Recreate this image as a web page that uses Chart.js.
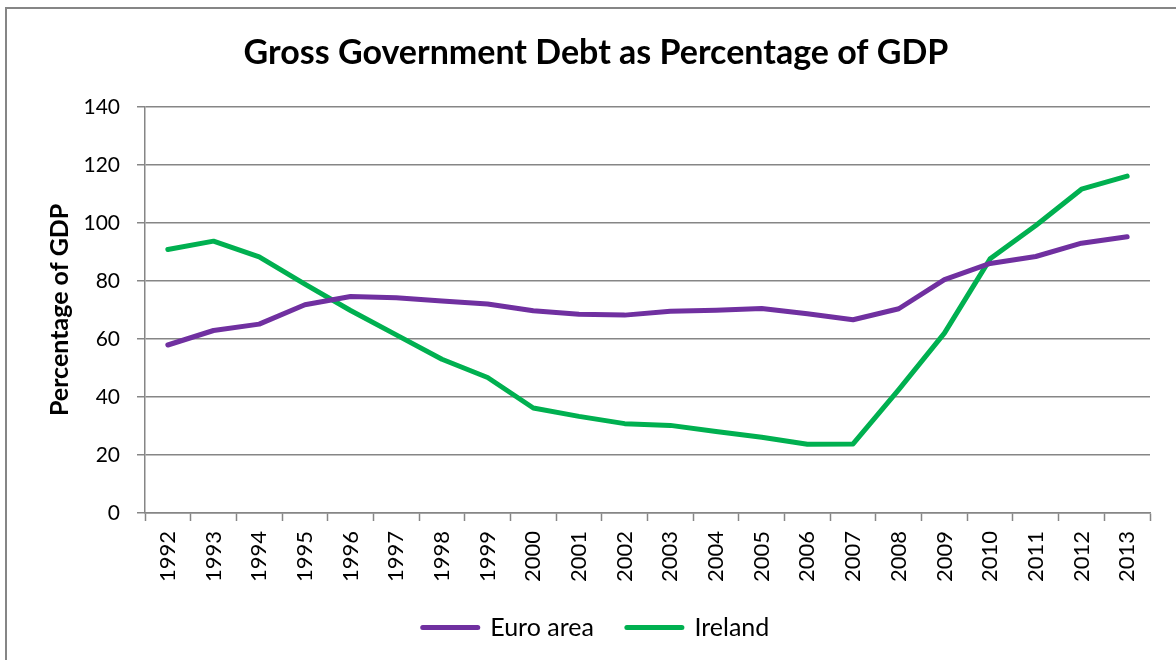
<!DOCTYPE html>
<html>
<head>
<meta charset="utf-8">
<title>Gross Government Debt as Percentage of GDP</title>
<script src="https://cdn.jsdelivr.net/npm/chart.js@4/dist/chart.umd.min.js"></script>
<style>
    html, body { margin: 0; padding: 0; background: #fff; }
    #wrap { position: relative; width: 1176px; height: 660px; }
</style>
</head>
<body>
<div id="wrap"><canvas id="debtChart"></canvas></div>
<script>
// years on the category axis
const years = ['1992', '1993', '1994', '1995', '1996', '1997', '1998', '1999', '2000', '2001', '2002',
               '2003', '2004', '2005', '2006', '2007', '2008', '2009', '2010', '2011', '2012', '2013'];

// gross government debt, % of GDP
const euroArea = [57.9, 62.9, 65.1, 71.8, 74.6, 74.2, 73.1, 72.0, 69.7, 68.5, 68.2,
                  69.5, 69.9, 70.5, 68.7, 66.6, 70.4, 80.4, 86.0, 88.4, 93.0, 95.2];
const ireland = [90.8, 93.7, 88.3, 78.9, 69.8, 61.4, 53.0, 46.7, 36.2, 33.3, 30.8,
                 30.2, 28.1, 26.1, 23.7, 23.8, 42.5, 62.0, 87.6, 99.1, 111.6, 116.1];

// value axis
const yMin = 0;
const yMax = 140;
const yStep = 20;

const purple = '#7030A0';
const green = '#00B050';
const gridGrey = '#868686';
const fontName = 'Lato, "Open Sans", sans-serif';

// thin grey frame round the whole chart
const frame = {
    id: 'frame',
    beforeDraw(chart) {
        const c = chart.ctx;
        c.save();
        c.strokeStyle = gridGrey;
        c.lineWidth = 2;
        c.strokeRect(6, 8, chart.width + 20, chart.height + 20);
        c.restore();
    }
};

document.addEventListener('DOMContentLoaded', function(){
    const ctx = document.getElementById('debtChart');
    const myChart = new Chart(ctx, {
        type: 'line',
        data: {
            labels: years,
            datasets: [{
                label: 'Euro area',
                data: euroArea,
                borderColor: purple,
                backgroundColor: purple,
                pointBorderColor: purple,
                pointBorderWidth: 5
            }, {
                label: 'Ireland',
                data: ireland,
                borderColor: green,
                backgroundColor: green,
                pointBorderColor: green,
                pointBorderWidth: 5
            }]
        },
        options: {
            responsive: true,
            maintainAspectRatio: false,
            animation: false,
            layout: {
                padding: { left: 42, right: 26, top: 0, bottom: 10 }
            },
            elements: {
                line: {
                    borderWidth: 5,
                    tension: 0,
                    borderCapStyle: 'round',
                    borderJoinStyle: 'round'
                },
                point: { radius: 0, hoverRadius: 0 }
            },
            plugins: {
                title: {
                    display: true,
                    text: 'Gross Government Debt as Percentage of GDP',
                    color: '#000',
                    font: { family: fontName, size: 34, weight: 'bold' },
                    padding: { top: 33, bottom: 33 }
                },
                legend: {
                    position: 'bottom',
                    labels: {
                        color: '#000',
                        font: { family: fontName, size: 25 },
                        usePointStyle: true,
                        pointStyle: 'line',
                        pointStyleWidth: 55,
                        padding: 33,
                        generateLabels: function(chart) {
                            const items = Chart.defaults.plugins.legend.labels.generateLabels(chart);
                            items.forEach(function(item) {
                                item.lineCap = 'round';
                            });
                            return items;
                        }
                    }
                },
                tooltip: { enabled: false }
            },
            scales: {
                x: {
                    offset: true,
                    grid: {
                        offset: true,
                        drawOnChartArea: false,
                        drawTicks: true,
                        tickLength: 8,
                        tickColor: gridGrey,
                        tickWidth: 1.5
                    },
                    border: { color: gridGrey, width: 1.5 },
                    ticks: {
                        color: '#000',
                        font: { family: fontName, size: 22 },
                        minRotation: 90,
                        maxRotation: 90,
                        autoSkip: false,
                        padding: 10
                    },
                    afterFit: function(scale) {
                        scale.height = 69;
                    }
                },
                y: {
                    min: yMin,
                    max: yMax,
                    grid: {
                        color: gridGrey,
                        lineWidth: 1.5,
                        tickLength: 8
                    },
                    border: { color: gridGrey, width: 1.5 },
                    ticks: {
                        stepSize: yStep,
                        color: '#000',
                        font: { family: fontName, size: 21 },
                        padding: 17
                    },
                    title: {
                        display: true,
                        text: 'Percentage of GDP',
                        color: '#000',
                        font: { family: fontName, size: 25, weight: 'bold' },
                        padding: { top: 3, bottom: 0 }
                    },
                    afterFit: function(scale) {
                        scale.width = 103;
                    }
                }
            }
        },
        plugins: [frame]
    });
});
</script>
</body>
</html>
